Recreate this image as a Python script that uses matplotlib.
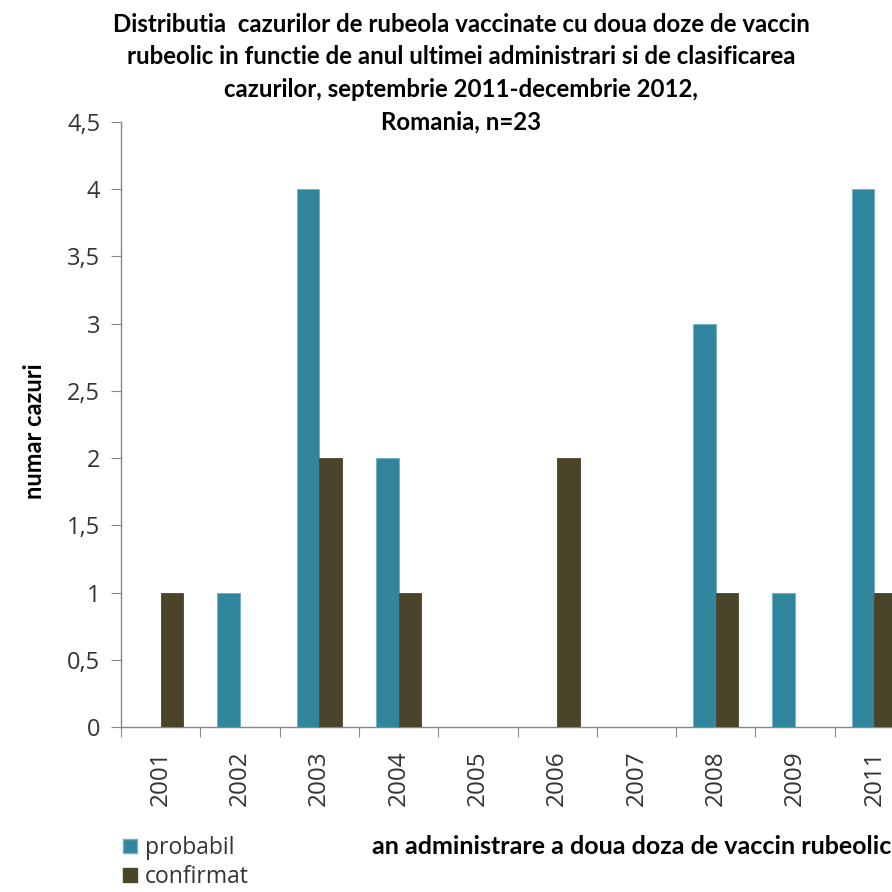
import matplotlib
matplotlib.use("Agg")
import matplotlib.pyplot as plt
import numpy as np
from matplotlib.patches import Patch

years = ["2001", "2002", "2003", "2004", "2005", "2006", "2007", "2008", "2009", "2011"]
probabil = [0, 1, 4, 2, 0, 0, 0, 3, 1, 4]
confirmat = [1, 0, 2, 1, 0, 2, 0, 1, 0, 1]
ytick_vals = [0, 0.5, 1, 1.5, 2, 2.5, 3, 3.5, 4, 4.5]
ytick_labels = ["0", "0,5", "1", "1,5", "2", "2,5", "3", "3,5", "4", "4,5"]

title_lines = ["Distributia  cazurilor de rubeola vaccinate cu doua doze de vaccin",
               "rubeolic in functie de anul ultimei administrari si de clasificarea",
               "cazurilor, septembrie 2011-decembrie 2012,",
               "Romania, n=23"]

c_prob = "#31859C"
c_conf = "#4A452A"
axis_col = "#888888"
tick_font = "Open Sans"
title_font = "Lato"
tick_col = "#333333"

W = H = 892
fig = plt.figure(figsize=(8.92, 8.92), dpi=100)
left_px, right_px = 121, 914
bottom_px, top_px = 727, 122
ax = fig.add_axes([left_px / W, 1 - bottom_px / H, (right_px - left_px) / W, (bottom_px - top_px) / H])

x = np.arange(len(years))
bw = 1 / 3.5
ax.bar(x - bw / 2, probabil, width=bw, color=c_prob, edgecolor="#6FB0C2", linewidth=0.6, zorder=3)
ax.bar(x + bw / 2, confirmat, width=bw, color=c_conf, edgecolor=c_conf, linewidth=0.6, zorder=3)

ax.set_xlim(-0.5, len(years) - 0.5)
ax.set_ylim(0, 4.5)
ax.set_yticks(ytick_vals)
ax.set_yticklabels(ytick_labels, fontsize=17, family=tick_font, color=tick_col)
ax.set_xticks(np.arange(-0.5, len(years), 1.0))
ax.set_xticklabels([])
ax.set_xticks(x, minor=True)
ax.set_xticklabels(years, minor=True, rotation=90, fontsize=17.5, family=tick_font, color=tick_col)
ax.tick_params(axis="x", which="major", length=7, color=axis_col, direction="out")
ax.tick_params(axis="x", which="minor", length=0, pad=17)
ax.tick_params(axis="y", length=7, color=axis_col, direction="out", pad=8)

for s in ["top", "right"]:
    ax.spines[s].set_visible(False)
for s in ["left", "bottom"]:
    ax.spines[s].set_color(axis_col)
    ax.spines[s].set_linewidth(1.0)

baselines = [32, 64.5, 97, 129.5]
for line, yb in zip(title_lines, baselines):
    fig.text(461 / W, 1 - yb / H, line, ha="center", va="baseline", fontsize=17.3,
             fontweight="bold", family=title_font)
fig.text(35 / W, 1 - 431 / H, "numar cazuri", rotation=90, ha="center", va="center",
         fontsize=17, fontweight="bold", family=title_font)
fig.text(372 / W, 1 - 846 / H, "an administrare a doua doza de vaccin rubeolic", ha="left",
         va="center", fontsize=18, fontweight="bold", family=title_font)

handles = [Patch(facecolor=c_prob, edgecolor="#6FB0C2", label="probabil"),
           Patch(facecolor=c_conf, edgecolor=c_conf, label="confirmat")]
leg = fig.legend(handles=handles, loc="upper left", bbox_to_anchor=(123 / W, 1 - 836 / H),
                 frameon=False, prop={"family": tick_font, "size": 16.5},
                 handlelength=0.62, handleheight=0.62, handletextpad=0.35, labelspacing=0.22,
                 borderaxespad=0, borderpad=0)
for t in leg.get_texts():
    t.set_color(tick_col)

fig.savefig("out.png", dpi=100)
